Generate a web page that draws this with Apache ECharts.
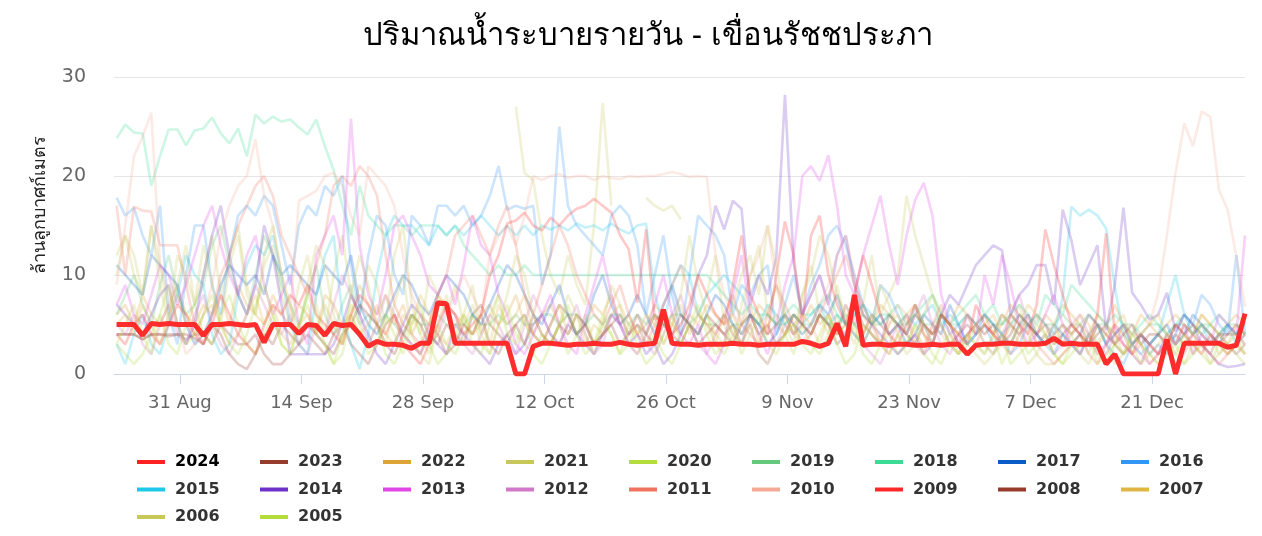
<!DOCTYPE html>
<html><head><meta charset="utf-8">
<script src="https://cdn.jsdelivr.net/npm/echarts@6/dist/echarts.min.js"></script>
<style>html,body{margin:0;padding:0;background:#fff}#c{width:1262px;height:536px}</style>
</head><body><div id="c"></div><script>
const years = ['2024','2023','2022','2021','2020','2019','2018','2017','2016','2015','2014','2013','2012','2011','2010','2009','2008','2007','2006','2005'];
const colors = ['#ff2222','#963c2d','#dea436','#c8c85a','#b4dc3c','#64c87d','#3cdc96','#0a5ac8','#3296f5','#1ec8e6','#6e32c8','#e146e6','#d278c8','#f0735f','#f5aa96','#ff2828','#963c2d','#e1b446','#c8c85a','#b4dc3c'];
const firstDay = '2024-08-24';
const tickDates = ['2024-08-31','2024-09-14','2024-09-28','2024-10-12','2024-10-26','2024-11-09','2024-11-23','2024-12-07','2024-12-21'];
const tickLabels = ['31 Aug','14 Sep','28 Sep','12 Oct','26 Oct','9 Nov','23 Nov','7 Dec','21 Dec'];

const y2024 = [5.0,5.0,5.0,3.9,5.1,5.0,5.1,5.0,5.0,5.0,
 3.9,5.0,5.0,5.1,5.0,4.9,5.0,3.2,5.0,5.0,
 5.0,4.1,5.0,4.9,3.9,5.1,4.9,5.0,4.0,2.8,
 3.3,3.0,3.0,2.9,2.6,3.1,3.1,7.2,7.1,3.1,
 3.1,3.1,3.1,3.1,3.1,3.1,0,0,2.8,3.1,
 3.1,3.0,2.9,3.0,3.0,3.1,3.0,3.0,3.2,3.0,
 2.9,3.0,3.1,6.5,3.1,3.0,3.0,2.9,3.0,3.0,
 3.0,3.1,3.0,3.0,2.9,3.0,3.0,3.0,3.0,3.3,
 3.1,2.8,3.1,5.1,2.8,8.0,2.9,3.0,3.0,2.9,
 3.0,3.0,2.9,2.9,3.0,2.9,3.0,3.0,2.0,2.9,
 3.0,3.0,3.1,3.1,3.0,3.0,3.0,3.1,3.6,3.0,
 3.1,3.0,3.0,3.0,1.0,2.0,0,0,0,0,
 0,3.5,0,3.1,3.1,3.1,3.1,3.1,2.7,2.9,6.1];
const y2023 = [4,4,4,3.5,4,4,4,4,3.5,4,
 4,3,5,4,3,3,4,2,1,1,
 2,3,4,3,2,4,5,3,2,1,
 3,5,6,4,3,2,4,3,5,4,
 3,6,7,5,4,3,5,6,4,3,
 5,7,6,4,5,3,4,5,6,4,
 5,4,6,5,4,3,5,4,6,5,
 4,5,3,6,5,4,5,6,4,5,
 4,6,5,4,7,5,4,6,5,4,
 5,4,6,5,4,5,3,4,5,4,
 5,4,6,5,4,5,4,3,4,5,
 4,5,3,4,5,3,2,3,4,3,
 4,3,4,3,4,5,4,3,4,5,4];
const y2022 = [6,7,5,8,6,5,7,9,6,5,
 7,6,8,5,9,7,6,5,8,6,
 5,7,6,4,8,7,5,6,9,7,
 6,8,5,7,4,6,5,8,7,6,
 5,4,6,7,5,6,8,5,4,6,
 7,5,6,4,5,7,6,8,5,6,
 4,5,7,6,5,4,6,5,7,6,
 5,6,4,5,7,6,5,4,6,5,
 7,5,6,4,5,8,6,5,7,6,
 5,6,7,5,4,6,5,7,6,5,
 6,4,5,7,6,5,4,6,5,7,
 6,5,4,6,5,7,5,4,6,5,
 4,5,6,5,4,6,5,4,5,6,5];
const y2021 = [12,14,10,8,15,11,6,9,13,7,
 10,14,8,12,15,9,6,11,13,8,
 5,9,12,7,4,10,14,8,6,11,
 9,5,12,15,7,4,10,8,6,9,
 5,7,4,6,8,null,27,20.3,19.6,14,
 10,8,12,9,7,15,27.4,17,null,null,
 null,17.8,17,16.5,17,15.6,null,6,8,12,
 5,3,7,10,13,6,9,5,3,8,
 11,6,4,9,5,3,7,12,6,8,
 10,18,14,11,8,6,5,4,3,2,
 1,2,3,5,7,4,2,1,1,2,
 3,4,2,5,3,1,2,4,3,2,
 1,2,3,4,2,3,1,2,3,2,1];
const y2020 = [3,2,1,2,4,6,3,2,5,7,
 4,3,6,8,5,3,2,4,6,3,
 2,5,7,4,3,1,2,6,4,3,
 5,2,1,3,6,4,2,5,3,2,
 4,6,3,2,5,7,4,3,2,4,
 3,5,2,4,6,3,5,4,2,3,
 5,3,4,2,1,3,5,4,6,3,
 2,4,3,5,2,1,3,4,2,5,
 3,2,4,6,3,5,2,1,3,4,
 2,3,5,4,2,1,3,2,4,3,
 2,4,1,3,5,2,3,4,2,1,
 3,2,4,1,2,3,5,2,1,3,
 2,4,3,1,2,3,2,4,3,2,3];
const y2019 = [6,8,10,7,5,9,12,8,6,7,
 9,13,15,11,8,6,10,14,12,9,
 7,5,8,11,6,4,7,9,5,6,
 5,6,5,4,6,5,5,6,5,5,
 5,6,5,5,6,5,6,5,5,6,
 6,5,6,6,5,6,5,6,6,5,
 6,5,6,5,6,6,5,6,5,5,
 6,5,5,6,5,6,5,5,6,5,
 5,6,5,5,6,5,6,5,5,6,
 5,5,6,5,5,6,5,5,6,5,
 6,5,5,6,5,5,6,5,5,6,
 5,5,6,5,5,4,5,5,4,5,
 5,4,5,5,4,5,5,4,5,5,4];
const y2018 = [23.8,25.2,24.4,24.3,19,22,24.7,24.7,23.1,24.6,
 24.8,25.9,24.3,23.3,24.8,22,26.2,25.3,26,25.5,
 25.7,24.9,24.2,25.7,23,20.6,17,14,19,16,
 15,14,15,15,14,15,15,15,14,15,
 13,12,11,10,11,10,10,11,10,10,
 10,10,10,10,10,10,10,10,10,10,
 10,10,10,10,10,10,10,10,10,9,
 8,7,6,7,6,6,5,6,7,6,
 6,7,8,6,5,6,7,5,6,6,
 7,5,6,7,8,6,5,6,7,8,
 6,7,5,6,7,6,5,8,7,6,
 9,8,7,6,5,6,5,4,5,6,
 5,4,5,6,5,4,5,6,5,4,5];
const y2017 = [11,10,9,8,12,11,10,9,5,3,
 4,6,9,11,10,9,10,8,12,10,
 11,10,9,8,11,10,9,12,7,5,
 4,6,8,10,9,7,6,8,10,9,
 8,6,5,7,9,11,10,8,6,5,
 7,9,6,4,5,8,10,7,5,6,
 8,6,4,7,9,6,5,4,6,8,
 7,5,4,6,5,3,4,6,5,4,
 5,7,6,8,5,4,3,5,6,4,
 5,3,4,6,5,4,7,5,3,4,
 6,5,4,3,5,6,4,3,5,4,
 3,4,6,5,3,4,5,3,4,3,
 4,5,3,4,6,5,4,3,5,4,6];
const y2016 = [17.8,16,16.8,14,12,17,6,3,10,15,
 15,9,6,12,16,17,16,18,17,13,
 9,15,17,16,19,18,20,11,6,12,
 16,15,10,8,16,15,13,17,17,16,
 17,15,16,18,21,16.6,17,16.7,17,9,
 12,25,17,15,14,13,12,16,17,16,
 13,6,10,14,8,4,10,16,15,14,
 12,6,9,8,10,11,4,7,10,6,
 9,11,14,15,13,10,7,5,9,8,
 6,4,7,5,3,6,4,5,3,4,
 5,3,4,2,3,5,4,3,2,4,
 3,2,4,5,3,2,1,3,4,2,
 3,2,4,6,5,8,7,5,4,12,4];
const y2015 = [3,1,4,6,3,2,5,8,12,10,
 9,4,2,3,8,11,13,12,14,10,
 5,3,2,8,12,14,6,3,0.5,4,
 10,14,16,15,15,14,13,15,14,15,
 14,15,16,15,14,15,14,15,14,15,
 14.6,15,14.5,15.2,14.8,15,14.5,15.2,14.6,14.2,
 15,15.2,8,5,9,11,10,6,8,9,
 10,9,8,6,5,7,6,5,6,5,
 6,7,5,6,5,6,7,6,5,6,
 5,6,5,6,7,5,6,5,6,5,
 6,5,4,5,6,5,6,5,4,7.8,
 16.9,16,16.6,16,14.7,8.8,4,3,2,3,
 4,7,10,6,4,5,3,4,5,3,4];
const y2014 = [7,6,5,4,6,8,9,5,3,5,
 10,14,17,12,8,6,9,15,12,7,
 2,2,2,2,2,3,5,8,6,4,
 2,1,3,5,7,6,4,3,2,5,
 4,3,2,1,3,4,2,3,5,6,
 4,3,5,4,3,2,4,6,5,3,
 4,2,3,1,2,4,6,10,12,17,
 14.6,17.5,16.7,7,10,8,11.8,28.2,11.2,6,
 8,10,7,12,14,9,6,5,4,3,
 2,3,4,2,3,6,8,7,9,11,
 12,13,12.5,6,8,9,11,11,7,16.6,
 13.5,9,11,13,4.4,9,16.8,8.2,7,5.5,
 6,8.2,4.3,6,5,3,2,1,0.7,0.8,1];
const y2013 = [7,9,6,5,8,11,10,7,9,12,
 15,17,13,10,8,12,14,9,6,8,
 10,5,3,12,14,16,12,25.8,13,8,
 6,10,15,16,14,12,9,8,10,7,
 11,16,13,12,8,6,3,2,4,6,
 8,5,3,2,6,9,12,8,5,3,
 2,4,7,10,6,4,3,5,2,1,
 3,8,12,6,4,2,5,9,12,20,
 21,19.5,22.1,17,10,8,12,15,18,13,
 9,14,17.6,19.3,16,8,5,3,6,4,
 10,7,12,9,5,3,4,6,8,5,
 3,2,4,2,3,5,3,2,1,3,
 2,4,3,5,2,4,3,6,5,4,14];
const y2012 = [5,4,6,3,2,5,7,4,3,6,
 8,5,3,2,4,6,9,7,5,4,
 6,3,2,5,4,7,10,8,6,3,
 5,8,6,4,3,2,5,4,7,6,
 3,2,4,6,5,3,2,5,8,6,
 4,3,5,7,4,2,3,6,5,4,
 5,3,2,4,6,8,5,3,2,4,
 6,4,3,5,2,1,3,5,4,6,
 8,10,7,5,4,6,3,2,1,3,
 5,4,6,8,5,3,2,4,6,5,
 3,2,4,6,8,5,3,4,2,3,
 5,6,4,3,2,4,5,3,2,1,
 2,4,3,5,4,3,2,4,3,2,3];
const y2011 = [17,10,16.9,16.5,16.4,13,13,13,9,5,
 3,6,10,12,15,17,19,20,18,14,
 12,10,8,11,14,19,20,19,21,20,
 18,12,7,5,4,3,5,8,10,14,
 15,16,14,12,15,17,13,8,6,9,
 12,15,13,10,8,6,5,7,9,6,
 4,3,5,7,9,11,8,6,5,4,
 6,8,5,4,3,6,9,7,5,3,
 4,6,8,10,12,9,7,5,3,2,
 4,6,3,2,5,7,4,3,2,3,
 5,4,3,2,4,6,3,2,1,2,
 3,4,2,1,3,5,4,2,3,1,
 2,3,1,2,4,3,2,1,2,3,2];
const y2010 = [9,15,22,24,26.4,11,8,5,2,3,
 6,9,14,17,19,20,23.7,18,15,10,
 6,17.5,18,18.5,20,20.3,19,16,14,21,
 20,19,17,12,8,6,5,4,6,8,
 10,8,6,12,14,15,13,16,20,19.6,
 20,20.2,19.8,20,20,19.6,20,19.8,19.7,20,
 19.9,20,20,20.2,20.4,20.2,19.9,20,19.9,12,
 8,6,5,10,12,15,9,6,4,3,
 5,7,9,12,14,10,6,4,3,5,
 7,6,4,3,5,4,3,2,4,5,
 6,4,3,5,4,3,6,5,4,3,
 5,4,6,5,4,3,5,4,4,5,
 8.2,14,20.3,25.3,23,26.5,26,18.6,16.6,11.9,6.8];
const y2009 = [4,3,5,6,4,3,5,7,6,4,
 3,5,8,6,4,3,2,5,7,6,
 8,7,9,6,5,4,3,6,8,7,
 5,4,6,3,2,1,3,5,7,6,
 4,5,6,10,12,15.2,15.5,16.3,15,14.5,
 15.8,15,16,16.7,17,17.7,17,16.3,14,12.6,
 7.2,14.6,5.5,6,4,5,7,10,8,6,
 5,9,14,8,6,4,10,15.4,12,5,
 14,16,10,7,5,8,12,9,6,4,
 3,5,7,4,3,6,5,4,3,7,
 5,4,3,6,5,4,7,14.6,11,8,
 5,4,3,6,14.2,4,3,2,4,3,
 2,3,5,4,3,2,4,3,2,3,4];
const y2008 = [4,4,4,3.5,4,4,3.8,4,4,3.6,
 3,5,4,2,1,0.5,2,4,3,5,
 4,3,5,4,3,2,4,5,7,6,
 5,3,2,4,6,5,3,4,2,3,
 5,4,6,3,2,4,5,3,6,4,
 3,5,4,6,5,3,4,5,3,4,
 6,4,3,5,4,6,5,3,4,5,
 4,3,5,6,4,5,3,4,6,5,
 4,6,5,3,4,7,5,4,3,6,
 5,4,3,5,4,6,5,3,4,5,
 4,5,3,4,6,5,4,5,3,4,
 5,4,3,5,4,3,4,5,3,4,
 4,3,5,4,5,4,3,4,4,4,3];
const y2007 = [5,6,4,7,5,3,6,8,5,4,
 6,7,5,3,4,6,8,5,7,4,
 3,5,6,4,7,5,3,6,4,5,
 7,4,3,6,5,8,6,4,3,5,
 6,4,5,3,7,5,6,8,4,3,
 5,7,4,6,3,5,4,6,7,5,
 4,6,5,3,5,7,4,6,5,3,
 6,4,5,7,3,5,6,4,5,6,
 5,3,6,4,5,7,4,6,3,5,
 6,4,7,5,3,6,5,4,6,4,
 5,6,4,3,5,7,6,4,5,3,
 4,6,5,3,4,5,6,3,4,5,
 6,4,3,5,4,6,5,4,3,5,4];
const y2006 = [10,14,12,8,15,9,5,12,10,7,
 13,9,5,11,14,8,6,12,15,10,
 7,4,9,13,11,6,3,8,12,9,
 5,3,7,10,4,2,1,5,8,3,
 6,9,4,2,5,8,12,10,6,4,
 3,5,8,6,4,2,5,9,7,3,
 2,4,6,3,5,8,14,9,6,4,
 3,7,10,12,8,15,11,6,4,8,
 10,14,12,8,6,4,3,5,9,7,
 4,2,3,6,8,5,3,2,4,3,
 2,4,6,5,3,1,2,4,3,5,
 4,2,1,3,5,4,2,3,1,2,
 3,4,2,1,3,5,4,2,3,4,2];
const y2005 = [3,5,7,4,2,6,9,5,3,4,
 6,8,5,3,2,4,7,9,6,3,
 2,5,8,6,3,1,4,7,5,2,
 3,6,4,2,5,7,3,1,2,4,
 6,3,2,5,8,4,3,6,2,1,
 3,5,7,4,2,3,6,4,2,5,
 3,1,2,4,6,3,5,7,4,2,
 3,5,2,4,6,3,2,4,5,3,
 2,4,6,3,1,2,5,4,3,2,
 4,3,5,2,1,3,4,2,3,5,
 3,2,4,1,2,3,5,4,2,1,
 2,3,4,2,1,3,2,4,3,2,
 1,3,2,4,3,2,1,3,2,3,2];

const values = [y2024,y2023,y2022,y2021,y2020,y2019,y2018,y2017,y2016,y2015,y2014,y2013,y2012,y2011,y2010,y2009,y2008,y2007,y2006,y2005];

const DAY = 86400000;
const tickVals = tickDates.map(d => (Date.parse(d) - Date.parse(firstDay)) / DAY + 7/24);
function labelFor(v){ for (let k=0;k<tickVals.length;k++){ if (Math.abs(tickVals[k]-v) < 1e-6) return tickLabels[k]; } return ''; }

const series = years.map((y, k) => ({
  name: y, type: 'line', symbol: 'none', silent: true,
  data: values[k].map((v, i) => [i, v]),
  z: k === 0 ? 10 : 2,
  color: colors[k],
  itemStyle: { color: colors[k] },
  lineStyle: k === 0 ? { width: 5, color: colors[k], opacity: 0.95 } : { width: 2.6, color: colors[k], opacity: 0.25 },
  emphasis: { disabled: true }
}));

const legendFont = 'DejaVu Sans';
const legends = [0,1,2].map(r => ({
  data: years.slice(r*9, r*9+9).map(n => n === '2024' ? { name: n, textStyle: { color: '#000' } } : { name: n }),
  left: 137, top: 452 + r*27.5, orient: 'horizontal', padding: 0,
  icon: 'rect', itemWidth: 28, itemHeight: 4, itemGap: 0,
  itemStyle: { opacity: 1 },
  textStyle: { color: '#333', fontSize: 16, fontWeight: 'bold', fontFamily: legendFont, width: 85, lineHeight: 20, padding: [0,0,0,5] }
}));

const chart = echarts.init(document.getElementById('c'), null, { renderer: 'canvas' });
chart.setOption({
  animation: false,
  backgroundColor: '#fff',
  title: { text: 'ปริมาณน้ำระบายรายวัน - เขื่อนรัชชประภา', left: 643, top: 16, textAlign: 'center',
    textStyle: { fontSize: 31, fontWeight: 'normal', color: '#000' } },
  grid: { left: 114, right: 17, top: 77, bottom: 162, containLabel: false },
  legend: legends,
  graphic: [{ type: 'text', x: 40, y: 205, rotation: Math.PI / 2, silent: true,
    style: { text: 'ล้านลูกบาศก์เมตร', fill: '#222', fontSize: 18, align: 'center', verticalAlign: 'middle' } }],
  xAxis: { type: 'value', min: -0.3, max: 130,
    axisLine: { show: true, lineStyle: { color: '#ccd6eb', width: 1 } },
    axisTick: { show: true, customValues: tickVals, length: 10, lineStyle: { color: '#ccd6eb' } },
    axisLabel: { customValues: tickVals, formatter: v => labelFor(v), color: '#666', fontSize: 18, margin: 20, fontFamily: 'DejaVu Sans' },
    splitLine: { show: false } },
  yAxis: { type: 'value', min: 0, max: 30, interval: 10,
    axisLine: { show: false }, axisTick: { show: false },
    axisLabel: { color: '#666', fontSize: 19, margin: 28, fontFamily: 'DejaVu Sans' },
    splitLine: { lineStyle: { color: '#e6e6e6' } } },
  series: series
});
</script></body></html>
